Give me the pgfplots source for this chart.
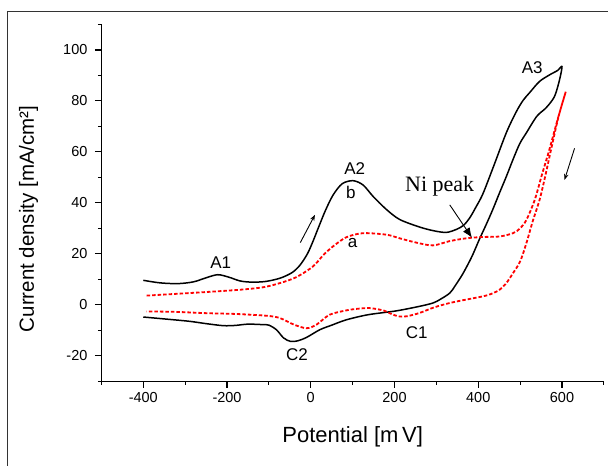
\documentclass[border=0pt]{standalone}
\usepackage{fontspec}
\setmainfont{Liberation Sans}
\newfontfamily\seriffont{Liberation Serif}
\usepackage{pgfplots}
\pgfplotsset{compat=1.18}
\usetikzlibrary{arrows.meta}

\begin{document}
\begin{tikzpicture}
\begin{axis}[
  at={(0,0)}, anchor=south west,
  scale only axis, width=502.8pt, height=357pt,
  xmin=-500, xmax=700, ymin=-30, ymax=110,
  axis x line*=bottom, axis y line*=left,
  axis line style={line width=1.2pt},
  xtick={-400,-200,0,200,400,600},
  minor xtick={-500,-300,-100,100,300,500,700},
  ytick={-20,0,20,40,60,80,100},
  minor ytick={-30,-10,10,30,50,70,90,110},
  tick align=outside, tick style={line width=1.1pt, black},
  major tick length=6.5pt, minor tick length=3.5pt,
  /pgf/number format/assume math mode=true,
  ticklabel style={font=\fontsize{14.5}{16}\selectfont},
  xticklabel style={yshift=-1.5pt},
  yticklabel style={xshift=-4pt},
  xlabel={Potential [m\,V]},
  ylabel={Current density [mA/cm²]},
  xlabel style={font=\fontsize{22}{24}\selectfont, at={(axis description cs:0.5,-0.157)}, anchor=center},
  ylabel style={font=\fontsize{20.5}{24}\selectfont, at={(axis description cs:-0.145,0.455)}, anchor=center},
  clip=false,
]
% curve b (black)
\addplot[black, line width=1.5pt, smooth, tension=0.5] coordinates {
  (-400,9.6) (-360,8.6) (-317,8.3) (-280,9.0) (-250,10.6) (-222,11.8) (-195,10.8)
  (-170,9.4) (-145,8.9) (-110,9.1) (-74,10.4) (-45,12.6) (-26,15.5) (-8,20)
  (5.5,25) (20,31) (35,37) (53,43) (75,47.5) (101,48.7) (125,47.0) (149,42.5)
  (180,37.5) (212,33.5) (260,30.5) (295,29.0) (324,28.4) (348,29.6) (365,31.2)
  (380,34.2) (395,38.5) (411,43.5) (437,54.5) (467,67.5) (490,75.5) (507,80.2)
  (523,83.3) (546,87.6) (570,90.2) (590,92) (600,93.5)
  (594,88.2) (582,81.7) (562,77.3) (540,74) (515,67.5) (499,63.2) (483,57)
  (467,50.3) (451,44) (435,37.5) (419,31.5) (403,25.8) (385,19) (364,12.4)
  (345,7.5) (332,4.6) (310,2.2) (292,0.7) (260,-0.6) (204,-2.4) (137,-3.9)
  (85,-5.9) (50,-8.0) (21.5,-9.8) (-10,-12.8) (-30,-14.1) (-48,-14.4) (-65,-13)
  (-82,-9.8) (-100,-8.0) (-114,-7.8) (-150,-7.6) (-180,-8.1) (-209,-8.2)
  (-250,-7.4) (-289,-6.5) (-340,-5.7) (-400,-4.8)
};
% curve a (red dashed)
\addplot[red, line width=1.8pt, dash pattern=on 3.5pt off 2pt, smooth, tension=0.5] coordinates {
  (-392,3.6) (-300,4.5) (-250,5.0) (-169,5.9) (-113,6.9) (-74,8.5) (-35,10.8)
  (5,15) (30,19.5) (53,22.9) (85,26.5) (125,28.1) (181,27.5) (212,26.1)
  (252,24.4) (292,23.3) (332,25.0) (372,26.1) (410,26.6) (451,26.8)
  (483,28.1) (500,30) (515,33.3) (535,41.2) (552,51) (570,61) (590,73) (609,83.6)
  (592,74) (574,61) (560,50.5) (546.5,41.2) (530.5,33) (515,24.2) (500,17)
  (483,12.4) (467,8.5) (451,5.9) (430,4.2) (411,3.3) (370,2.0) (332,0.7)
  (295,-1.0) (260,-3.2) (230,-4.5) (212,-4.6) (195,-3.8) (175,-2.3) (141,-1.3)
  (110,-1.6) (85,-2.2) (45,-3.9) (13.6,-7.8) (-10,-9.2) (-40,-7.8)
  (-74,-5.2) (-106,-4.3) (-180,-3.6) (-249,-3.3) (-320,-2.8) (-392,-2.6)
};
\begin{scope}[font=\fontsize{17}{19}\selectfont]
\node at (axis cs:-215,16.7) {A1};
\node at (axis cs:105,53.4) {A2};
\node at (axis cs:96,43.9) {b};
\node at (axis cs:100,24.1) {a};
\node at (axis cs:529,92.9) {A3};
\node at (axis cs:253,-11.1) {C1};
\node at (axis cs:-33,-19.5) {C2};
\end{scope}
\node[font=\seriffont\fontsize{22}{24}\selectfont] at (axis cs:308,46.4) {Ni peak};
\draw[line width=0.9pt, -{Latex[length=10pt,width=8pt]}] (axis cs:332,39.2) -- (axis cs:385,26.3);
\draw[line width=0.9pt, -{Stealth[length=6pt,width=4.5pt]}] (axis cs:-25,24.4) -- (axis cs:10,35.3);
\draw[line width=0.9pt, -{Stealth[length=6pt,width=4.5pt]}] (axis cs:630,61.4) -- (axis cs:606,49);
\end{axis}
\draw[line width=0.9pt, black!80] (-94.5pt,-84.5pt) -- (-94.5pt,370.5pt) -- (506.5pt,370.5pt);
\path[use as bounding box] (-101.5pt,-84.5pt) rectangle (506.5pt,381.5pt);
\end{tikzpicture}
\end{document}
